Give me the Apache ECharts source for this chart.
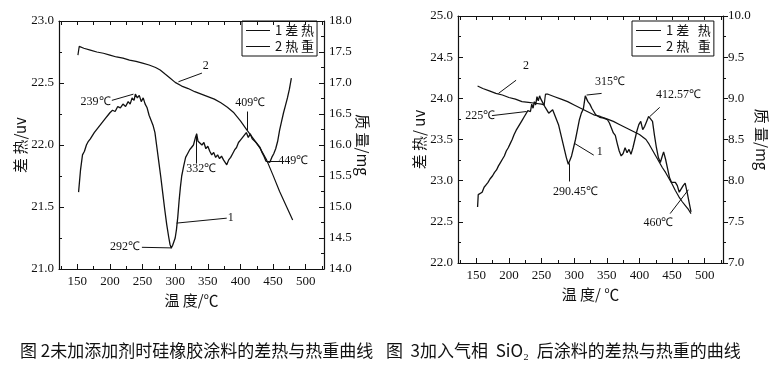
<!DOCTYPE html>
<html><head><meta charset="utf-8">
<script src="https://cdn.jsdelivr.net/npm/echarts@6/dist/echarts.min.js"></script>
<style>html,body{margin:0;padding:0;background:#fff}#c{width:773px;height:368px}</style>
</head><body><div id="c"></div>
<script>
// ---- data ----
const xTicks = [150, 200, 250, 300, 350, 400, 450, 500];
const xMinorTicks = [125, 175, 225, 275, 325, 375, 425, 475, 525];

const names1 = ['1 差 热', '2 热 重'];
const names2 = ['1 差   热', '2 热   重'];

// Fig.2 DTA (temperature, uV)
const dta1 = [[152,21.62],[155,21.80],[158,21.92],[161,21.95],[164,22.00],[167,22.03],[170,22.05],[173,22.04],[176,22.10],[179,22.12],[182,22.14],[185,22.15],[188,22.18],[191,22.19],[194,22.22],[197,22.24],[200,22.26],[204,22.28],[208,22.27],[212,22.31],[216,22.30],[220,22.33],[224,22.31],[228,22.35],[231,22.33],[234,22.38],[237,22.36],[239,22.41],[242,22.38],[245,22.40],[248,22.35],[251,22.38],[254,22.33],[257,22.30],[260,22.24],[263,22.20],[266,22.16],[269,22.10],[272,21.98],[275,21.86],[278,21.74],[281,21.61],[284,21.48],[287,21.36],[290,21.26],[292,21.20],[294,21.17],[296,21.19],[298,21.22],[300,21.25],[302,21.32],[304,21.42],[306,21.55],[308,21.66],[310,21.75],[313,21.83],[316,21.90],[319,21.93],[322,21.96],[325,21.98],[328,22.00],[331,22.06],[333,22.09],[335,22.03],[338,22.02],[341,22.00],[344,22.02],[347,21.97],[350,21.99],[353,21.95],[356,21.92],[359,21.94],[362,21.90],[365,21.92],[368,21.89],[371,21.91],[374,21.88],[377,21.89],[379,21.84],[382,21.88],[385,21.90],[388,21.93],[391,21.96],[394,21.98],[397,22.02],[400,22.04],[403,22.06],[406,22.08],[409,22.10],[412,22.06],[415,22.09],[418,22.05],[421,22.06],[424,22.02],[427,22.00],[430,21.98],[433,21.94],[436,21.91],[439,21.87],[442,21.88],[445,21.86],[448,21.90],[451,21.93],[454,21.97],[457,22.03],[460,22.12],[463,22.19],[466,22.26],[469,22.32],[472,22.38],[475,22.45],[478,22.54]];
// Fig.2 TG (temperature, mg)
const tg1 = [[151,17.45],[153,17.59],[160,17.56],[170,17.53],[180,17.50],[190,17.48],[200,17.45],[210,17.42],[220,17.40],[230,17.37],[240,17.35],[250,17.32],[260,17.29],[270,17.25],[277,17.21],[285,17.14],[292,17.08],[300,17.01],[310,16.95],[320,16.91],[330,16.86],[340,16.82],[350,16.78],[360,16.74],[370,16.68],[380,16.61],[390,16.52],[400,16.39],[410,16.24],[420,16.10],[430,15.95],[440,15.76],[450,15.51],[460,15.25],[470,15.02],[480,14.79]];
// Fig.3 DTA
const dta2 = [[152,22.68],[153,22.83],[156,22.85],[159,22.86],[162,22.92],[165,22.95],[168,22.98],[171,23.02],[175,23.06],[178,23.10],[181,23.13],[184,23.18],[187,23.22],[190,23.26],[193,23.30],[196,23.36],[199,23.40],[202,23.45],[205,23.50],[208,23.56],[211,23.61],[214,23.65],[217,23.69],[220,23.73],[223,23.77],[226,23.81],[229,23.85],[231,23.87],[233,23.84],[235,23.93],[237,23.88],[239,23.96],[241,23.92],[243,24.02],[245,23.97],[247,24.03],[249,23.99],[251,24.01],[253,23.93],[255,23.90],[258,23.86],[261,23.82],[264,23.84],[267,23.86],[270,23.80],[273,23.74],[276,23.68],[279,23.58],[282,23.48],[285,23.38],[288,23.28],[291,23.20],[293,23.22],[296,23.30],[299,23.40],[302,23.50],[305,23.62],[308,23.74],[311,23.82],[314,23.87],[317,24.03],[319,24.02],[321,23.96],[324,23.93],[327,23.88],[330,23.84],[333,23.80],[336,23.78],[339,23.77],[342,23.78],[345,23.76],[348,23.77],[351,23.74],[354,23.70],[357,23.64],[360,23.58],[363,23.55],[366,23.45],[369,23.36],[372,23.30],[375,23.33],[378,23.40],[381,23.34],[384,23.38],[387,23.32],[390,23.40],[393,23.50],[396,23.60],[399,23.68],[402,23.72],[405,23.62],[408,23.66],[411,23.72],[414,23.78],[417,23.80],[420,23.72],[423,23.55],[426,23.40],[429,23.28],[432,23.22],[435,23.30],[437,23.35],[440,23.26],[443,23.15],[446,23.04],[449,22.98],[452,23.00],[455,22.98],[458,22.94],[461,22.86],[464,22.88],[467,22.94],[470,22.97],[473,22.86],[476,22.74],[479,22.62]];
// Fig.3 TG
const tg2 = [[152,9.15],[160,9.12],[170,9.09],[180,9.06],[190,9.04],[200,9.01],[210,8.99],[220,8.96],[230,8.95],[240,8.94],[250,8.93],[254,8.92],[256,9.05],[260,9.05],[270,9.02],[280,8.99],[290,8.96],[300,8.92],[310,8.88],[320,8.84],[330,8.80],[340,8.78],[350,8.75],[360,8.72],[370,8.68],[380,8.64],[390,8.60],[400,8.56],[410,8.50],[415,8.44],[420,8.37],[425,8.30],[430,8.23],[435,8.16],[440,8.10],[445,8.03],[450,7.96],[455,7.88],[460,7.81],[465,7.75],[470,7.70],[475,7.65],[479,7.60]];

const caption1 = '图 2未加添加剂时硅橡胶涂料的差热与热重曲线';
const caption2 = '图  3加入气相  SiO₂  后涂料的差热与热重的曲线';

// ---- annotations (data coordinates on the left axis) ----
const ann1 = [
  {from:[236,22.41], to:[203,22.36], text:'239℃', at:[178,22.35]},
  {from:[295,21.17], to:[249,21.175], text:'292℃', at:[223,21.18]},
  {from:[302,21.37], to:[379,21.41], text:'1', at:[385,21.41]},
  {from:[305,22.51], to:[341,22.58], text:'2', at:[347,22.64]},
  {from:[333,22.09], to:[333,21.85], text:'332℃', at:[340,21.81]},
  {from:[410,22.12], to:[410,22.27], text:'409℃', at:[415,22.34]},
  {from:[440,21.87], to:[460,21.87], text:'449℃', at:[481,21.87]}
];
const ann2 = [
  {from:[184,24.06], to:[211,24.22], text:'2', at:[226,24.40]},
  {from:[227,23.84], to:[174,23.79], text:'225℃', at:[156,23.79]},
  {from:[319,24.04], to:[342,24.06], text:'315℃', at:[355,24.20]},
  {from:[301,23.45], to:[330,23.31], text:'1', at:[339,23.35]},
  {from:[292,23.21], to:[292,22.99], text:'290.45℃', at:[302,22.87]},
  {from:[416,23.78], to:[431,23.89], text:'412.57℃', at:[460,24.04]},
  {from:[447,22.60], to:[475,22.89], text:'460℃', at:[429,22.49]}
];

const SERIF = 'Liberation Serif';
const CJK = 'Noto Sans CJK SC';
const INK = '#111';
const numRich = {n:{fontFamily:SERIF, fontSize:13, color:INK}};

function xAxes(g, nameText, nameGap) {
  const base = {gridIndex:g, type:'value', min:122, max:528, splitLine:{show:false}};
  return [
    Object.assign({}, base, {
      position:'bottom', name:nameText, nameLocation:'middle', nameGap:nameGap,
      nameTextStyle:{fontFamily:CJK, fontSize:15, color:INK},
      axisLine:{show:true, onZero:false, lineStyle:{color:INK, width:1.2}},
      axisTick:{show:true, inside:true, length:5, customValues:xTicks, lineStyle:{color:INK}},
      axisLabel:{customValues:xTicks, fontFamily:SERIF, fontSize:13, color:INK, margin:6,
        formatter:v => '{n|' + v + '}', rich:numRich}
    }),
    Object.assign({}, base, {
      position:'bottom', axisLine:{show:false},
      axisTick:{show:true, inside:true, length:3, customValues:xMinorTicks, lineStyle:{color:INK}},
      axisLabel:{show:false}
    }),
    Object.assign({}, base, {
      position:'top', axisLine:{show:true, onZero:false, lineStyle:{color:INK, width:1.2}},
      axisTick:{show:true, inside:true, length:4, customValues:xTicks.concat(xMinorTicks), lineStyle:{color:INK}},
      axisLabel:{show:false}
    })
  ];
}

function yAxis(g, pos, min, max, nameText, nameGap, tickInside) {
  return {
    gridIndex:g, type:'value', position:pos, min:min, max:max, interval:0.5,
    name:nameText, nameLocation:'middle', nameGap:nameGap, nameRotate: pos === 'left' ? 90 : -90,
    nameTextStyle:{fontFamily:CJK, fontSize:15, color:INK},
    splitLine:{show:false},
    axisLine:{show:true, onZero:false, lineStyle:{color:INK, width:1.2}},
    axisTick:{show:true, inside:tickInside, length:5, lineStyle:{color:INK}},
    minorTick:{show:true, splitNumber:2, length:3, lineStyle:{color:INK}},
    axisLabel:{fontFamily:SERIF, fontSize:13, color:INK, margin:5,
      formatter:v => '{n|' + v.toFixed(1) + '}', rich:numRich}
  };
}

function annSeries(list) {
  return {
    markLine:{
      silent:true, symbol:['none','arrow'], symbolSize:[0,7], animation:false,
      lineStyle:{color:INK, width:1, type:'solid'}, label:{show:false},
      data:list.map(a => [{coord:a.from}, {coord:a.to}])
    },
    markPoint:{
      silent:true, symbol:'circle', symbolSize:1, animation:false,
      itemStyle:{color:'rgba(0,0,0,0)'},
      data:list.map(a => ({coord:a.at, value:a.text, label:{show:true, position:'inside', formatter:a.text,
        fontFamily:SERIF, fontSize:12, color:INK}}))
    }
  };
}

function lineSeries(name, xi, yi, data, width, extra) {
  return Object.assign({
    name:name, type:'line', xAxisIndex:xi, yAxisIndex:yi, data:data,
    symbol:'none', smooth:false, animation:false,
    lineStyle:{color:INK, width:width}, itemStyle:{color:INK}
  }, extra || {});
}

const chart = echarts.init(document.getElementById('c'), null, {renderer:'canvas'});
chart.setOption({
  backgroundColor:'#fff',
  animation:false,
  textStyle:{fontFamily:SERIF},
  grid:[
    {left:59, top:21, width:265, height:248},
    {left:458, top:16, width:265, height:247}
  ],
  xAxis: xAxes(0, '温 度/℃', 20).concat(xAxes(1, '温 度/ ℃', 24)),
  yAxis:[
    yAxis(0, 'left', 21, 23, '差 热/uv', 31, true),
    yAxis(0, 'right', 14, 18, '质 量/mg', 31, true),
    yAxis(1, 'left', 22, 25, '差 热/ uv', 29, true),
    yAxis(1, 'right', 7, 10, '质 量/mg', 23, false)
  ],
  legend:[
    {data:names1, left:242, top:21, orient:'vertical', icon:'rect', itemWidth:24, itemHeight:1,
     itemGap:3, padding:[3,3,3,4], borderColor:INK, borderWidth:1,
     textStyle:{fontFamily:CJK, fontSize:13, color:INK}, selectedMode:false},
    {data:names2, left:632, top:21, orient:'vertical', icon:'rect', itemWidth:25, itemHeight:1,
     itemGap:3, padding:[3,3,3,4], borderColor:INK, borderWidth:1,
     textStyle:{fontFamily:CJK, fontSize:13, color:INK}, selectedMode:false}
  ],
  series:[
    lineSeries(names1[0], 0, 0, dta1, 1.3, annSeries(ann1)),
    lineSeries(names1[1], 0, 1, tg1, 1.2),
    lineSeries(names2[0], 3, 2, dta2, 1.3, annSeries(ann2)),
    lineSeries(names2[1], 3, 3, tg2, 1.2)
  ],
  graphic:[
    {type:'text', left:20, top:342, style:{text:caption1, font:'17px "Noto Sans CJK SC"', fill:INK}},
    {type:'text', left:386, top:342, style:{text:caption2, font:'17px "Noto Sans CJK SC"', fill:INK}}
  ]
});
</script></body></html>
